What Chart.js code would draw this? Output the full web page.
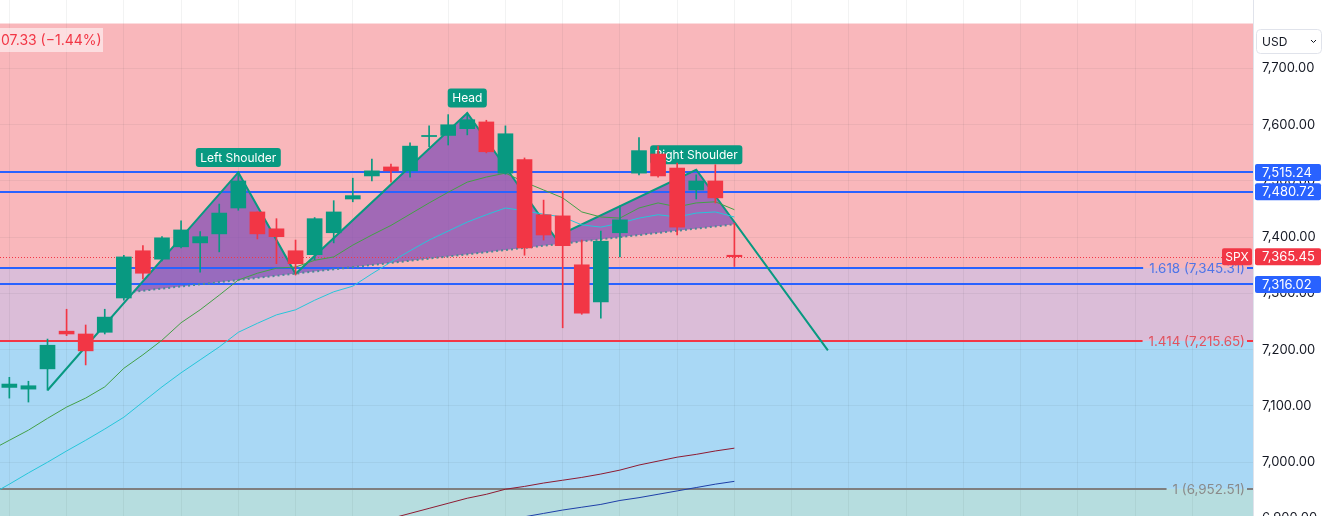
<!DOCTYPE html>
<html lang="en">
<head>
  <meta charset="UTF-8">
  <title>SPX - Head and Shoulders</title>
  <script src="https://cdn.jsdelivr.net/npm/chart.js"></script>
  <style>
    html, body { margin: 0; padding: 0; background: #ffffff; }
    .wrap { position: relative; width: 1326px; height: 516px; }
  </style>
</head>
<body>
  <div class="wrap"><canvas id="spxChart"></canvas></div>

  <script>
    // candles (daily)
    const candleX = [0, 1, 2, 3, 4, 5, 6, 7, 8, 9, 10, 11, 12, 13, 14, 15, 16, 17, 18, 19,
      20, 21, 22, 23, 24, 25, 26, 27, 28, 29, 30, 31, 32, 33, 34, 35, 36, 37, 38];
    const opens = [7133, 7130, 7166, 7233, 7228, 7231, 7292, 7376, 7361, 7383, 7390, 7406, 7452, 7445, 7415, 7376, 7369, 7408, 7468, 7509,
      7525, 7518, 7579, 7581, 7593, 7605, 7514, 7538, 7440, 7438, 7351, 7285, 7408, 7514, 7548, 7523, 7484, 7500, 7368];
    const highs = [7151, 7144, 7219, 7272, 7244, 7272, 7368, 7385, 7401, 7429, 7410, 7459, 7516, 7445, 7433, 7395, 7435, 7465, 7505, 7539,
      7530, 7568, 7598, 7618, 7621, 7608, 7598, 7541, 7466, 7482, 7395, 7411, 7456, 7577, 7562, 7532, 7511, 7529, 7425];
    const lows = [7114, 7107, 7128, 7225, 7173, 7228, 7288, 7326, 7358, 7381, 7338, 7374, 7448, 7397, 7353, 7333, 7360, 7390, 7463, 7500,
      7498, 7507, 7561, 7564, 7582, 7550, 7512, 7368, 7395, 7239, 7263, 7256, 7365, 7511, 7507, 7404, 7468, 7461, 7348];
    const closes = [7139, 7136, 7208, 7228, 7198, 7258, 7365, 7336, 7399, 7413, 7401, 7443, 7500, 7406, 7401, 7353, 7433, 7445, 7474, 7518,
      7518, 7562, 7581, 7600, 7609, 7552, 7584, 7381, 7404, 7385, 7265, 7393, 7431, 7554, 7509, 7418, 7500, 7470, 7365.45];

    // moving averages
    const maX = [-1, 0, 1, 2, 3, 4, 5, 6, 7, 8, 9, 10, 11, 12, 13, 14, 15, 16, 17, 18, 19,
      20, 21, 22, 23, 24, 25, 26, 27, 28, 29, 30, 31, 32, 33, 34, 35, 36, 37, 38];
    const maGreen = [7021, 7039, 7057, 7078, 7098, 7114, 7134, 7167, 7191, 7217, 7248, 7271, 7297, 7324, 7336, 7345, 7347, 7359, 7365, 7386, 7404,
      7421, 7441, 7461, 7480, 7498, 7507, 7514, 7498, 7484, 7470, 7445, 7436, 7434, 7452, 7461, 7454, 7461, 7463, 7449];
    const maCyan = [6942, 6961, 6981, 7000, 7020, 7039, 7059, 7080, 7107, 7134, 7159, 7182, 7205, 7231, 7247, 7262, 7271, 7288, 7303, 7313, 7335,
      7356, 7376, 7395, 7411, 7427, 7440, 7452, 7447, 7441, 7436, 7422, 7418, 7425, 7434, 7440, 7436, 7443, 7445, 7436];
    const maRedX = [18, 19, 20, 21, 22, 23, 24, 25, 26, 27, 28, 29, 30, 31, 32, 33, 34, 35, 36, 37, 38];
    const maRed = [6882, 6891, 6900, 6909, 6918, 6927, 6936, 6943, 6952, 6957, 6963, 6968, 6973, 6979, 6986, 6995, 7002, 7009, 7014, 7020, 7025];
    const maBlueX = [24, 25, 26, 27, 28, 29, 30, 31, 32, 33, 34, 35, 36, 37, 38];
    const maBlue = [6885, 6891, 6897, 6903, 6909, 6915, 6920, 6925, 6932, 6937, 6943, 6949, 6955, 6961, 6966];

    // head and shoulders drawing
    const patternX = [2, 12, 15, 24, 28.6, 36, 42.9];
    const patternY = [7128, 7515.24, 7335, 7621, 7400, 7520, 7199];
    const fillX = [6.5, 12, 15, 24, 28.6, 36, 38];
    const fillY = [7303, 7515.24, 7335, 7621, 7400, 7520, 7425];
    const neckX = [6.5, 38];
    const neckY = [7303, 7423];
    const patternLabels = ['Left Shoulder', 'Head', 'Right Shoulder'];
    const labelX = [12, 24, 36];
    const labelY = [7515.24, 7621, 7520];

    // horizontal levels
    const levelPrices = [7515.24, 7480.72, 7316.02];
    const fibRatios = ['1.618', '1.414', '1'];
    const fibPrices = [7345.31, 7215.65, 6952.51];
    const bandTops = [7780, 7345.31, 7215.65, 6952.51];
    const bandBottoms = [7345.31, 7215.65, 6952.51, 6800];
    const lastPrice = 7365.45;
    const legendText = '07.33 (\u22121.44%)';

    // vertical grid positions (candle index)
    const gridX = [0, 3, 6, 9, 12, 15, 18, 23, 26, 29, 32, 35, 38, 41, 44, 47, 50, 53, 56, 59, 62];
    const yTicks = [6900, 7000, 7100, 7200, 7300, 7400, 7500, 7600, 7700];

    const UP = '#089981';
    const DOWN = '#f23645';
    const BLUE = '#2962ff';
    const bandColors = ['#f9b7bb', '#dbbdd8', '#a9d8f5', '#b6dddf'];
    const fibLine = [BLUE, '#f23645', '#7f7f7f'];
    const fibText = ['#4f74e6', '#e0535f', '#8a8a8a'];

    const fmt = v => v.toLocaleString('en-US', { minimumFractionDigits: 2, maximumFractionDigits: 2 });
    const candleColors = opens.map((o, i) => closes[i] >= o ? UP : DOWN);
    const pts = (xs, ys) => xs.map((x, i) => ({ x: x, y: ys[i] }));

    Chart.defaults.font.family = 'Inter, "Noto Sans", sans-serif';

    function roundRect(ctx, x, y, w, h, r) {
      ctx.beginPath();
      ctx.moveTo(x + r, y);
      ctx.arcTo(x + w, y, x + w, y + h, r);
      ctx.arcTo(x + w, y + h, x, y + h, r);
      ctx.arcTo(x, y + h, x, y, r);
      ctx.arcTo(x, y, x + w, y, r);
      ctx.closePath();
    }

    const overlay = {
      id: 'overlay',
      beforeDraw(chart) {
        const { ctx, chartArea: a, scales: { y } } = chart;
        ctx.save();
        ctx.beginPath();
        ctx.rect(a.left, a.top, a.right - a.left, a.bottom - a.top);
        ctx.clip();
        bandTops.forEach((t, i) => {
          const y1 = y.getPixelForValue(t);
          const y2 = y.getPixelForValue(bandBottoms[i]);
          ctx.fillStyle = bandColors[i];
          ctx.fillRect(a.left, y1, a.right - a.left, y2 - y1);
        });
        ctx.restore();
      },
      beforeDatasetsDraw(chart) {
        const { ctx, chartArea: a, scales: { x, y } } = chart;
        ctx.save();
        ctx.beginPath();
        ctx.rect(a.left, a.top, a.right - a.left, a.bottom - a.top);
        ctx.clip();

        // pattern fill, closed along the neckline
        ctx.beginPath();
        fillX.forEach((v, i) => {
          const px = x.getPixelForValue(v), py = y.getPixelForValue(fillY[i]);
          if (i === 0) ctx.moveTo(px, py); else ctx.lineTo(px, py);
        });
        ctx.lineTo(x.getPixelForValue(neckX[1]), y.getPixelForValue(neckY[1]));
        ctx.lineTo(x.getPixelForValue(neckX[0]), y.getPixelForValue(neckY[0]));
        ctx.closePath();
        ctx.fillStyle = 'rgba(126, 75, 180, 0.72)';
        ctx.fill();

        // current price dotted line
        const lp = Math.round(y.getPixelForValue(lastPrice)) + 0.5;
        ctx.strokeStyle = DOWN;
        ctx.lineWidth = 1;
        ctx.setLineDash([1, 2]);
        ctx.beginPath();
        ctx.moveTo(a.left, lp);
        ctx.lineTo(a.right, lp);
        ctx.stroke();
        ctx.setLineDash([]);

        // solid blue levels
        ctx.lineWidth = 2;
        ctx.strokeStyle = BLUE;
        levelPrices.forEach(p => {
          const py = Math.round(y.getPixelForValue(p));
          ctx.beginPath();
          ctx.moveTo(a.left, py);
          ctx.lineTo(a.right, py);
          ctx.stroke();
        });

        // fib levels with their labels
        ctx.font = '13.4px Inter, sans-serif';
        ctx.textAlign = 'right';
        ctx.textBaseline = 'middle';
        fibPrices.forEach((p, i) => {
          const py = Math.round(y.getPixelForValue(p));
          const txt = fibRatios[i] + ' (' + fmt(p) + ')';
          const tEnd = a.right - 8;
          const tStart = tEnd - ctx.measureText(txt).width;
          ctx.strokeStyle = fibLine[i];
          ctx.beginPath();
          ctx.moveTo(a.left, py);
          ctx.lineTo(tStart - 6, py);
          ctx.moveTo(a.right - 6, py);
          ctx.lineTo(a.right, py);
          ctx.stroke();
          ctx.fillStyle = fibText[i];
          ctx.fillText(txt, tEnd, py + 1);
        });

        // pattern labels
        ctx.font = '12px Inter, sans-serif';
        ctx.textAlign = 'center';
        patternLabels.forEach((t, i) => {
          const px = x.getPixelForValue(labelX[i]);
          const py = y.getPixelForValue(labelY[i]) - 15;
          const w = ctx.measureText(t).width + 9;
          ctx.fillStyle = UP;
          roundRect(ctx, px - w / 2, py - 9.5, w, 19, 3);
          ctx.fill();
          ctx.fillStyle = '#ffffff';
          ctx.fillText(t, px, py + 0.5);
        });
        ctx.restore();
      },
      afterDraw(chart) {
        const { ctx, chartArea: a, scales: { y } } = chart;
        ctx.save();
        ctx.font = '13px Inter, sans-serif';
        ctx.textBaseline = 'middle';
        ctx.textAlign = 'left';

        // price tags on the axis
        const tag = (p, color) => {
          const py = y.getPixelForValue(p);
          ctx.fillStyle = color;
          roundRect(ctx, a.right + 2, py - 8.5, 66, 17, 2);
          ctx.fill();
          ctx.fillStyle = '#ffffff';
          ctx.fillText(fmt(p), a.right + 9, py + 0.5);
        };
        levelPrices.forEach(p => tag(p, BLUE));
        tag(lastPrice, DOWN);
        const sy = y.getPixelForValue(lastPrice);
        ctx.fillStyle = DOWN;
        roundRect(ctx, a.right - 31, sy - 8.5, 30, 17, 2);
        ctx.fill();
        ctx.fillStyle = '#ffffff';
        ctx.textAlign = 'center';
        ctx.font = '12px Inter, sans-serif';
        ctx.fillText('SPX', a.right - 16, sy + 0.5);

        // currency selector
        ctx.strokeStyle = '#e0e3eb';
        ctx.lineWidth = 1;
        roundRect(ctx, a.right + 3.5, 29.5, 65, 24, 4);
        ctx.stroke();
        ctx.fillStyle = '#131722';
        ctx.textAlign = 'left';
        ctx.fillText('USD', a.right + 9, 42);
        ctx.strokeStyle = '#131722';
        ctx.beginPath();
        ctx.moveTo(a.right + 58, 40);
        ctx.lineTo(a.right + 60.5, 42.5);
        ctx.lineTo(a.right + 63, 40);
        ctx.stroke();

        // change legend (cut at the left edge)
        ctx.fillStyle = 'rgba(255, 255, 255, 0.55)';
        ctx.fillRect(0, 28, 103, 24);
        ctx.fillStyle = DOWN;
        ctx.font = '14px Inter, sans-serif';
        ctx.fillText(legendText, 1, 41);
        ctx.restore();
      }
    };

    const lineStyle = (color, width) => ({
      type: 'line', borderColor: color, borderWidth: width, pointRadius: 0, tension: 0, fill: false
    });

    new Chart(document.getElementById('spxChart'), {
      type: 'bar',
      data: {
        datasets: [
          {
            label: 'bodies', data: candleX.map((v, i) => ({ x: v, y: [opens[i], closes[i]] })),
            backgroundColor: candleColors, barThickness: 15, grouped: false, minBarLength: 1, borderWidth: 0, order: 0
          },
          {
            label: 'wicks', data: candleX.map((v, i) => ({ x: v, y: [lows[i], highs[i]] })),
            backgroundColor: candleColors, barThickness: 1, grouped: false, borderWidth: 0, order: 1
          },
          Object.assign(lineStyle('#43a047', 1), { label: 'MA green', data: pts(maX, maGreen), order: 2 }),
          Object.assign(lineStyle('#26c6da', 1), { label: 'MA cyan', data: pts(maX, maCyan), order: 3 }),
          Object.assign(lineStyle('#8e1b32', 1), { label: 'MA red', data: pts(maRedX, maRed), order: 4 }),
          Object.assign(lineStyle('#1e3fa8', 1), { label: 'MA blue', data: pts(maBlueX, maBlue), order: 5 }),
          Object.assign(lineStyle('#089981', 2), { label: 'pattern', data: pts(patternX, patternY), order: 6 }),
          Object.assign(lineStyle('#4b8a95', 2), { label: 'neckline', data: pts(neckX, neckY), borderDash: [2, 3], order: 7 })
        ]
      },
      options: {
        responsive: true,
        maintainAspectRatio: false,
        animation: false,
        events: [],
        layout: { padding: 0 },
        plugins: { legend: { display: false }, tooltip: { enabled: false } },
        scales: {
          x: {
            type: 'linear', min: -0.49, max: 65.18, offset: false,
            grid: { color: 'rgba(42, 46, 57, 0.06)', drawTicks: false, offset: false },
            border: { display: false },
            ticks: { display: false },
            afterBuildTicks: s => { s.ticks = gridX.map(v => ({ value: v })); },
            afterFit: s => { s.height = 0; s.paddingLeft = 0; s.paddingRight = 0; }
          },
          y: {
            type: 'linear', position: 'right', min: 6904.4, max: 7821.8, beginAtZero: false,
            grid: { color: 'rgba(42, 46, 57, 0.06)', drawTicks: false },
            border: { color: '#e0e3eb' },
            ticks: {
              padding: 9, color: '#131722', font: { size: 13 },
              callback: v => fmt(v)
            },
            afterBuildTicks: s => { s.ticks = yTicks.map(v => ({ value: v })); },
            afterFit: s => { s.width = 73; s.paddingTop = 0; s.paddingBottom = 0; }
          }
        }
      },
      plugins: [overlay]
    });
  </script>
</body>
</html>
